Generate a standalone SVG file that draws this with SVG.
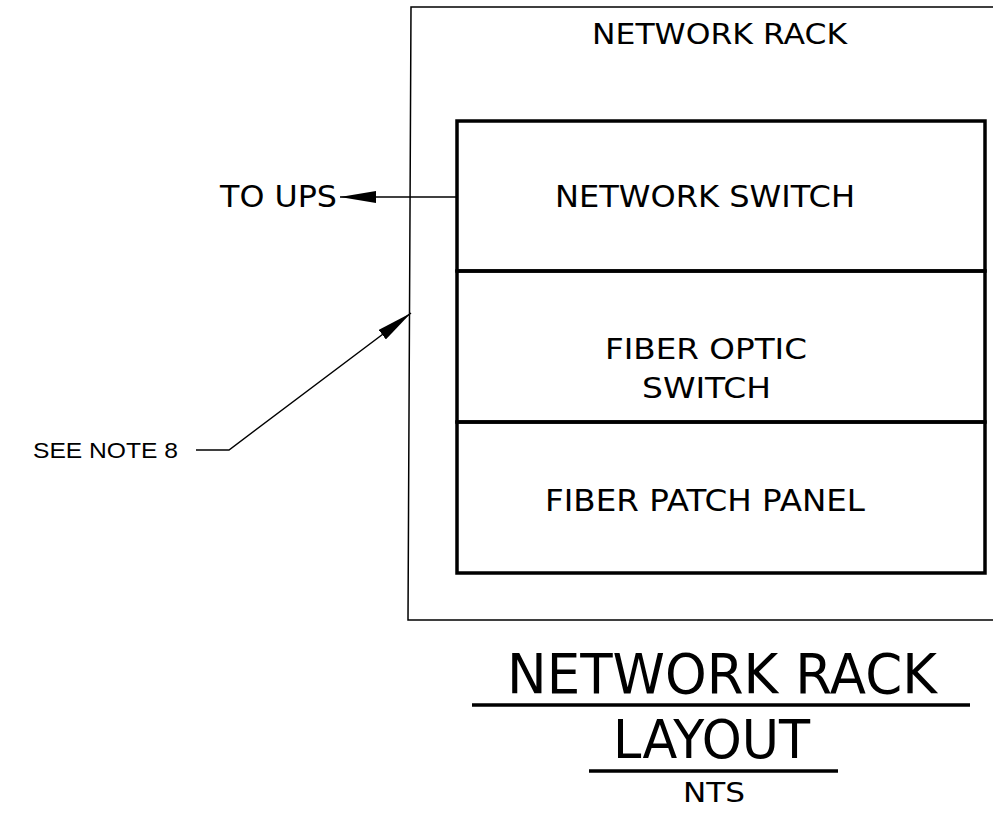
<svg xmlns="http://www.w3.org/2000/svg" width="993" height="820" viewBox="0 0 993 820">
<style>
.t{font-family:"DejaVu Sans",sans-serif;fill:#000}
.a{font-family:"Liberation Sans",Arial,sans-serif;fill:#000}
.thin{stroke:#000;stroke-width:1.5;fill:none}
.thick{stroke:#000;stroke-width:3.5;fill:none}
</style>
<defs>
<marker id="ah" markerWidth="36" markerHeight="12" refX="36" refY="6" orient="auto" markerUnits="userSpaceOnUse" viewBox="0 0 36 12">
<path d="M0,0 L36,6 L0,12 Z" fill="#000"/>
</marker>
</defs>
<rect width="993" height="820" fill="#fff"/>
<g id="rack">
<path class="thin" d="M995,7 L411,7 L408,620 L995,620"/>
<text class="t" x="592" y="44" font-size="29" textLength="255" lengthAdjust="spacingAndGlyphs">NETWORK RACK</text>
</g>
<g id="network-switch">
<rect class="thick" x="457" y="121" width="528" height="150"/>
<text class="t" x="555" y="207" font-size="30" textLength="300" lengthAdjust="spacingAndGlyphs">NETWORK SWITCH</text>
</g>
<g id="fiber-optic-switch">
<rect class="thick" x="457" y="271" width="528" height="151"/>
<text class="t" x="605" y="359" font-size="29" textLength="202" lengthAdjust="spacingAndGlyphs">FIBER OPTIC</text>
<text class="t" x="642" y="398" font-size="29" textLength="129" lengthAdjust="spacingAndGlyphs">SWITCH</text>
</g>
<g id="fiber-patch-panel">
<rect class="thick" x="457" y="422" width="528" height="151"/>
<text class="t" x="545" y="511" font-size="30" textLength="320" lengthAdjust="spacingAndGlyphs">FIBER PATCH PANEL</text>
</g>
<g id="to-ups">
<text class="t" x="220" y="207" font-size="30" textLength="117" lengthAdjust="spacingAndGlyphs">TO UPS</text>
</g>
<g id="note">
<text class="a" x="33" y="458" font-size="22" textLength="145" lengthAdjust="spacingAndGlyphs">SEE NOTE 8</text>
</g>
<g id="connectors">
<line class="thin" x1="457" y1="197" x2="340" y2="197" marker-end="url(#ah)"/>
<path class="thin" d="M196,450 L229,450 L411,313" marker-end="url(#ah)"/>
</g>
<g id="title">
<text class="t" x="507" y="693" font-size="55" textLength="430" lengthAdjust="spacingAndGlyphs">NETWORK RACK</text>
<line x1="472" y1="705" x2="970" y2="705" stroke="#000" stroke-width="3.5"/>
<text class="t" x="613" y="758" font-size="53" textLength="197" lengthAdjust="spacingAndGlyphs">LAYOUT</text>
<line x1="589" y1="771" x2="838" y2="771" stroke="#000" stroke-width="3.5"/>
<text class="t" x="683" y="802" font-size="26" textLength="62" lengthAdjust="spacingAndGlyphs">NTS</text>
</g>
</svg>
